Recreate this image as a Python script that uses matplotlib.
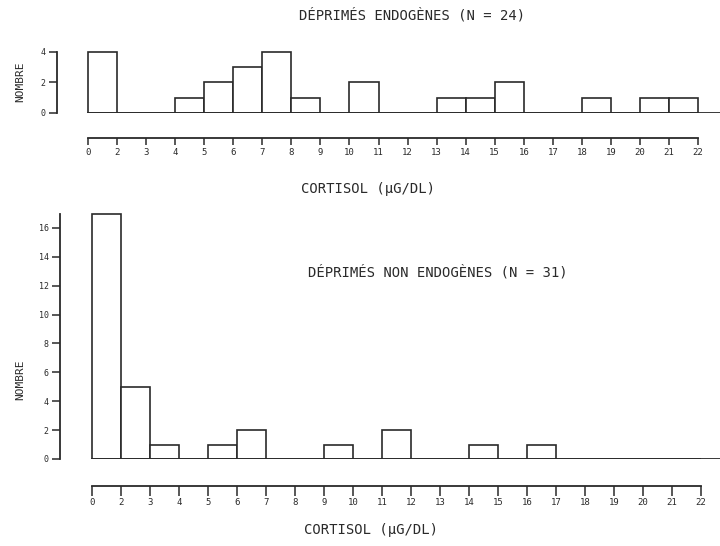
import numpy as np
import matplotlib
matplotlib.use("Agg")
import matplotlib.pyplot as plt

# Cortisol class boundaries (the first class spans 0-2 µg/dl)
tick_labels = ["0", "2", "3", "4", "5", "6", "7", "8", "9", "10", "11",
               "12", "13", "14", "15", "16", "17", "18", "19", "20", "21", "22"]

# Number of patients per cortisol class
endo_counts = [4, 0, 0, 1, 2, 3, 4, 1, 0, 2, 0, 0, 1, 1, 2, 0, 0, 1, 0, 1, 1]
non_endo_counts = [17, 5, 1, 0, 1, 2, 0, 0, 1, 0, 2, 0, 0, 1, 0, 1, 0, 0, 0, 0, 0]

endo_title = "DÉPRIMÉS ENDOGÈNES (N = 24)"
non_endo_title = "DÉPRIMÉS NON ENDOGÈNES (N = 31)"
x_title = "CORTISOL (µG/DL)"
y_title = "NOMBRE"

INK = "#2a2a2a"
plt.rcParams["font.family"] = ["DejaVu Sans Mono", "DejaVu Sans"]

W, H = 720, 546
fig = plt.figure(figsize=(W / 100, H / 100), dpi=100)


def px_axes(left, top, right, bottom):
    return fig.add_axes([left / W, 1 - bottom / H, (right - left) / W, (bottom - top) / H])


def draw_panel(ax, counts, yticks, xlim, ylim, left_out, bottom_out, xtick_len):
    n = len(counts)
    pos = np.arange(n)
    ax.bar(pos, counts, width=1.0, align="edge", facecolor="white",
           edgecolor=INK, linewidth=1.2, zorder=3)
    ax.set_xlim(*xlim)
    ax.set_ylim(*ylim)
    # baseline running from the first class to the right edge
    x0 = (0 - xlim[0]) / (xlim[1] - xlim[0])
    ax.axhline(0, xmin=x0, xmax=1, color=INK, linewidth=1.3, zorder=4)

    for s in ("top", "right"):
        ax.spines[s].set_visible(False)
    ax.spines["left"].set_position(("outward", left_out))
    ax.spines["left"].set_bounds(0, max(counts))
    ax.spines["bottom"].set_position(("outward", bottom_out))
    ax.spines["bottom"].set_bounds(0, n)
    for s in ("left", "bottom"):
        ax.spines[s].set_color(INK)
        ax.spines[s].set_linewidth(1.3)

    ax.set_xticks(np.arange(n + 1))
    ax.set_xticklabels(tick_labels)
    ax.set_yticks(yticks)
    ax.tick_params(axis="x", direction="out", length=xtick_len, width=1.1,
                   color=INK, labelsize=6.5, labelcolor=INK, pad=2)
    ax.tick_params(axis="y", direction="out", length=6, width=1.1,
                   color=INK, labelsize=6, labelcolor=INK, pad=2)
    ax.patch.set_visible(False)


# upper histogram: endogenous depression
ax1 = px_axes(80, 45, 720, 113)
draw_panel(ax1, endo_counts, [0, 2, 4],
           xlim=((80 - 88) / 29.05, (720 - 88) / 29.05),
           ylim=(0, (113 - 45) / 15.25),
           left_out=16.6, bottom_out=18, xtick_len=5)

# lower histogram: non-endogenous depression
ax2 = px_axes(80, 205, 720, 459)
draw_panel(ax2, non_endo_counts, list(range(0, 17, 2)),
           xlim=((80 - 92) / 29.0, (720 - 92) / 29.0),
           ylim=(0, (459 - 205) / 14.44),
           left_out=14.4, bottom_out=19.4, xtick_len=7)

# titles and axis captions
fig.text(412 / W, 1 - 15 / H, endo_title, ha="center", va="center",
         fontsize=10, color=INK)
fig.text(438 / W, 1 - 272 / H, non_endo_title, ha="center", va="center",
         fontsize=10, color=INK)
fig.text(368 / W, 1 - 189 / H, x_title, ha="center", va="center",
         fontsize=10, color=INK)
fig.text(371 / W, 1 - 530 / H, x_title, ha="center", va="center",
         fontsize=10, color=INK)
fig.text(20 / W, 1 - 82 / H, y_title, ha="center", va="center",
         rotation=90, fontsize=8, color=INK)
fig.text(20 / W, 1 - 380 / H, y_title, ha="center", va="center",
         rotation=90, fontsize=8, color=INK)

fig.savefig("out.png", dpi=100, facecolor="white")
